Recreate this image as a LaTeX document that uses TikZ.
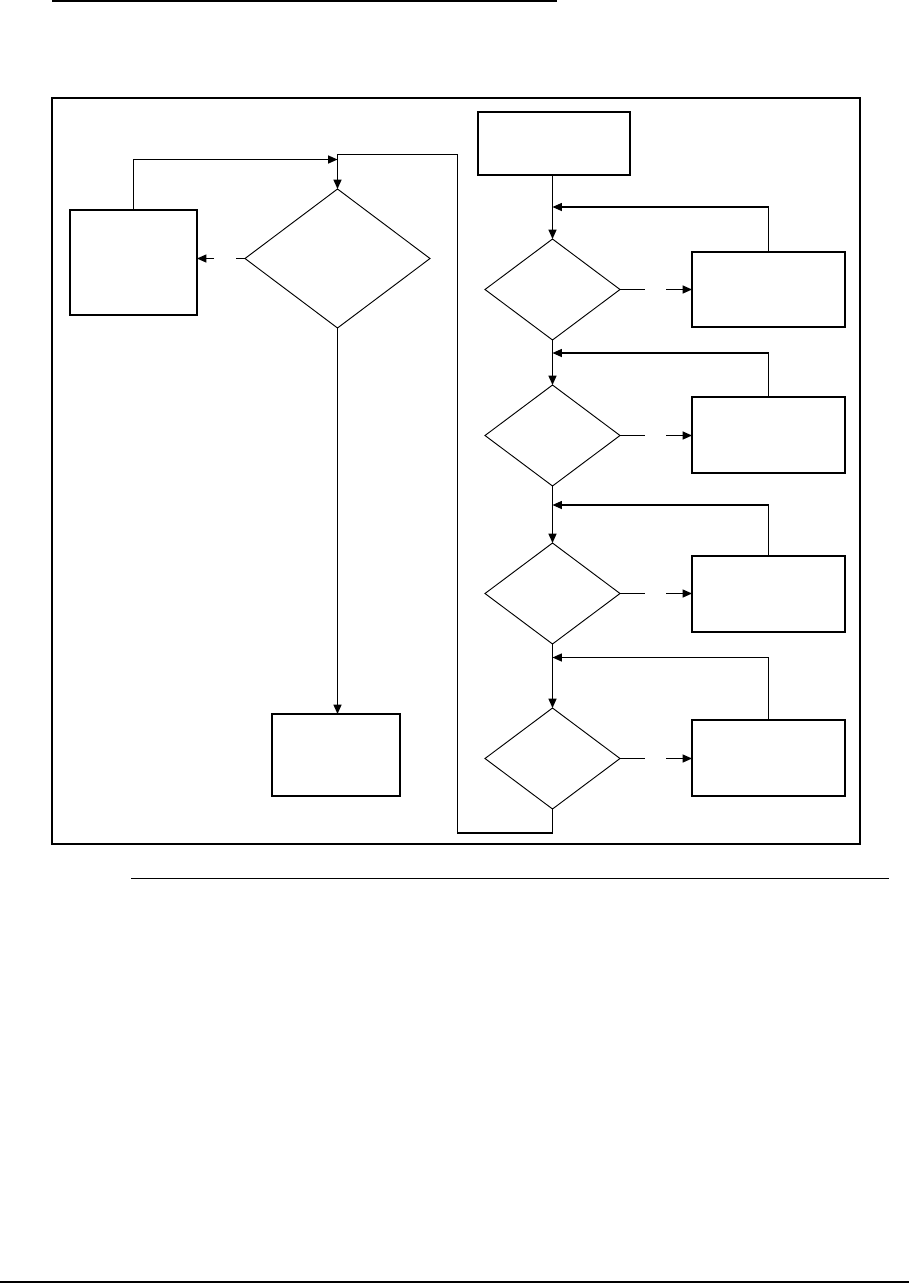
\documentclass[tikz,border=0pt]{standalone}
\usetikzlibrary{shapes.geometric,arrows.meta}
\begin{document}
\begin{tikzpicture}[x=0.75pt,y=-0.75pt,
  ln/.style={line width=0.85pt,line join=miter},
  arr/.style={ln,-{Triangle[length=7pt,width=6pt]}},
  box/.style={draw,line width=0.9pt,rectangle,inner sep=0pt,outer sep=0pt},
  dia/.style={draw,line width=0.7pt,diamond,inner sep=0pt,outer sep=0pt}]
\useasboundingbox (0,0) rectangle (909,1283);
% page rules
\draw[line width=1.6pt] (52,1) -- (557,1);
\draw[line width=1.5pt] (52,98) rectangle (860,844);
\draw[line width=1pt] (131,878.5) -- (889,878.5);
\draw[line width=1.2pt] (0,1282) -- (909,1282);
% right column
\node[box,minimum width=114pt,minimum height=47.25pt] (S) at (554,143.5) {};
\node[dia,minimum width=101.25pt,minimum height=75.75pt] (D1) at (552.5,289.5) {};
\node[dia,minimum width=101.25pt,minimum height=75.75pt] (D2) at (552.5,435.5) {};
\node[dia,minimum width=101.25pt,minimum height=75.75pt] (D3) at (552.5,593.5) {};
\node[dia,minimum width=101.25pt,minimum height=75.75pt] (D4) at (552.5,758.5) {};
\node[box,minimum width=114.75pt,minimum height=56.25pt] (B1) at (768.5,289.5) {};
\node[box,minimum width=114.75pt,minimum height=57pt] (B2) at (768.5,435) {};
\node[box,minimum width=114.75pt,minimum height=57pt] (B3) at (768.5,594) {};
\node[box,minimum width=114.75pt,minimum height=57pt] (B4) at (768.5,758) {};
% left column
\node[dia,minimum width=138.75pt,minimum height=104.25pt] (L) at (337.5,258.5) {};
\node[box,minimum width=95.25pt,minimum height=78.75pt] (LB) at (133.5,262.5) {};
\node[box,minimum width=96pt,minimum height=61.5pt] (E) at (336,755) {};
% coordinates
\coordinate (a1) at (645,289.5); \coordinate (b1) at (666,289.5);
\coordinate (a2) at (645,435.5); \coordinate (b2) at (666,435.5);
\coordinate (a3) at (645,593.5); \coordinate (b3) at (666,593.5);
\coordinate (a4) at (645,758.5); \coordinate (b4) at (666,758.5);
\coordinate (f1) at (552.5,207);
\coordinate (f2) at (552.5,353);
\coordinate (f3) at (552.5,505);
\coordinate (f4) at (552.5,657.5);
\coordinate (lp1) at (457.5,833);
\coordinate (lp2) at (337.5,154.5);
\coordinate (lbt) at (337.5,159.5);
\coordinate (la) at (236,258.5);
\coordinate (lb) at (214,258.5);
% connectors right column
\draw[arr] (S.south -| D1.north) -- (D1.north);
\draw[arr] (D1.south) -- (D2.north);
\draw[arr] (D2.south) -- (D3.north);
\draw[arr] (D3.south) -- (D4.north);
\draw[ln] (D1.east) -- (a1); \draw[arr] (b1) -- (b1 -| B1.west);
\draw[ln] (D2.east) -- (a2); \draw[arr] (b2) -- (b2 -| B2.west);
\draw[ln] (D3.east) -- (a3); \draw[arr] (b3) -- (b3 -| B3.west);
\draw[ln] (D4.east) -- (a4); \draw[arr] (b4) -- (b4 -| B4.west);
\draw[arr] (B1.north) |- (f1);
\draw[arr] (B2.north) |- (f2);
\draw[arr] (B3.north) |- (f3);
\draw[arr] (B4.north) |- (f4);
% loop back
\draw[arr] (D4.south) |- (lp1) |- (lp2) -- (L.north);
\draw[arr] (LB.north) |- (lbt);
\draw[ln] (L.west) -- (la); \draw[arr] (lb) -- (lb -| LB.east);
\draw[arr] (L.south) -- (L.south |- E.north);
\end{tikzpicture}
\end{document}
